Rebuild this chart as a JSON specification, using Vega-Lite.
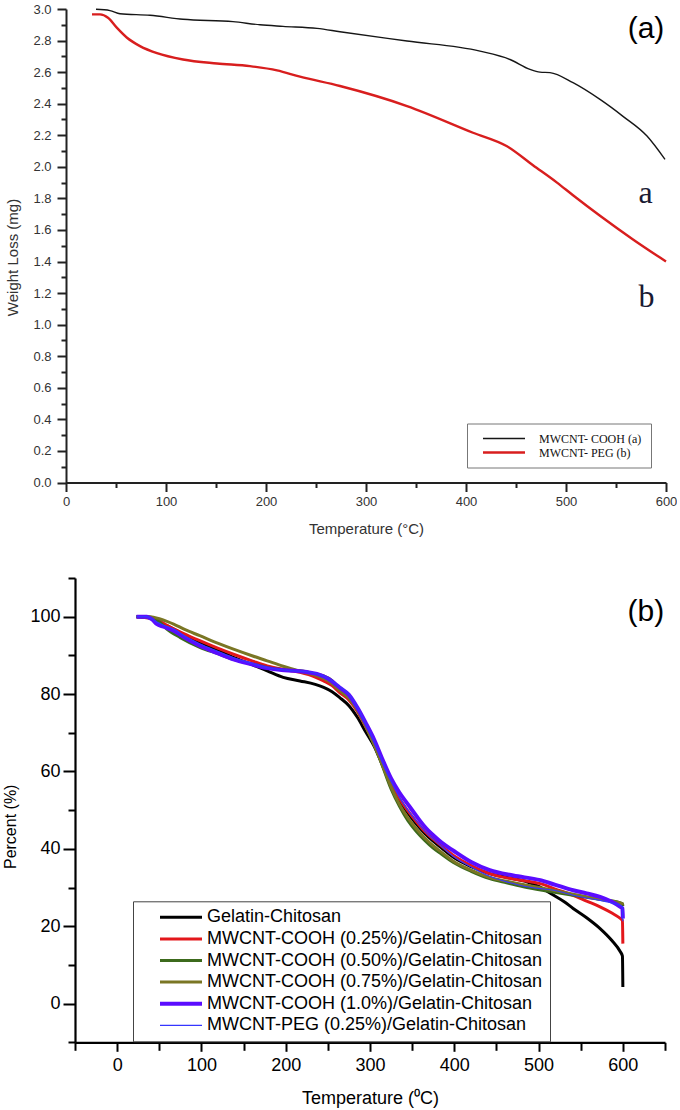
{
  "$schema": "https://vega.github.io/schema/vega-lite/v6.json",
  "padding": {"left": 2, "top": 3, "right": 0, "bottom": 0},
  "spacing": 40,
  "resolve": {"scale": {"color": "independent", "strokeWidth": "independent", "x": "independent", "y": "independent"}, "legend": {"color": "independent", "strokeWidth": "independent"}},
  "config": {
    "font": "Liberation Sans",
    "view": {"stroke": null},
    "axis": {"grid": false, "labelFlush": false, "labelOverlap": false, "titleFontWeight": "normal"}
  },
  "vconcat": [
    {
      "width": 600,
      "height": 473.5,
      "resolve": {"axis": {"x": "independent", "y": "independent"}},
      "layer": [
        {
          "data": {"values": [
            {"s": "MWCNT- COOH (a)", "T": 30, "W": 2.998},
            {"s": "MWCNT- COOH (a)", "T": 44, "W": 2.99},
            {"s": "MWCNT- COOH (a)", "T": 54, "W": 2.97},
            {"s": "MWCNT- COOH (a)", "T": 84, "W": 2.96},
            {"s": "MWCNT- COOH (a)", "T": 117, "W": 2.935},
            {"s": "MWCNT- COOH (a)", "T": 167, "W": 2.92},
            {"s": "MWCNT- COOH (a)", "T": 194, "W": 2.9},
            {"s": "MWCNT- COOH (a)", "T": 217, "W": 2.89},
            {"s": "MWCNT- COOH (a)", "T": 251, "W": 2.877},
            {"s": "MWCNT- COOH (a)", "T": 274, "W": 2.856},
            {"s": "MWCNT- COOH (a)", "T": 341, "W": 2.797},
            {"s": "MWCNT- COOH (a)", "T": 414, "W": 2.733},
            {"s": "MWCNT- COOH (a)", "T": 444, "W": 2.68},
            {"s": "MWCNT- COOH (a)", "T": 464, "W": 2.617},
            {"s": "MWCNT- COOH (a)", "T": 474, "W": 2.6},
            {"s": "MWCNT- COOH (a)", "T": 484, "W": 2.597},
            {"s": "MWCNT- COOH (a)", "T": 507, "W": 2.533},
            {"s": "MWCNT- COOH (a)", "T": 534, "W": 2.427},
            {"s": "MWCNT- COOH (a)", "T": 557, "W": 2.32},
            {"s": "MWCNT- COOH (a)", "T": 581, "W": 2.195},
            {"s": "MWCNT- COOH (a)", "T": 599, "W": 2.047},
            {"s": "MWCNT- PEG (b)", "T": 26, "W": 2.966},
            {"s": "MWCNT- PEG (b)", "T": 34, "W": 2.966},
            {"s": "MWCNT- PEG (b)", "T": 42, "W": 2.945},
            {"s": "MWCNT- PEG (b)", "T": 51, "W": 2.88},
            {"s": "MWCNT- PEG (b)", "T": 61, "W": 2.818},
            {"s": "MWCNT- PEG (b)", "T": 74, "W": 2.765},
            {"s": "MWCNT- PEG (b)", "T": 91, "W": 2.72},
            {"s": "MWCNT- PEG (b)", "T": 117, "W": 2.68},
            {"s": "MWCNT- PEG (b)", "T": 151, "W": 2.655},
            {"s": "MWCNT- PEG (b)", "T": 184, "W": 2.638},
            {"s": "MWCNT- PEG (b)", "T": 211, "W": 2.611},
            {"s": "MWCNT- PEG (b)", "T": 234, "W": 2.571},
            {"s": "MWCNT- PEG (b)", "T": 274, "W": 2.512},
            {"s": "MWCNT- PEG (b)", "T": 341, "W": 2.385},
            {"s": "MWCNT- PEG (b)", "T": 407, "W": 2.216},
            {"s": "MWCNT- PEG (b)", "T": 441, "W": 2.13},
            {"s": "MWCNT- PEG (b)", "T": 467, "W": 2.01},
            {"s": "MWCNT- PEG (b)", "T": 491, "W": 1.9},
            {"s": "MWCNT- PEG (b)", "T": 507, "W": 1.82},
            {"s": "MWCNT- PEG (b)", "T": 534, "W": 1.69},
            {"s": "MWCNT- PEG (b)", "T": 567, "W": 1.54},
            {"s": "MWCNT- PEG (b)", "T": 594, "W": 1.425},
            {"s": "MWCNT- PEG (b)", "T": 600, "W": 1.4}
          ]},
          "mark": {"type": "line", "interpolate": "monotone"},
          "encoding": {
            "x": {"field": "T", "type": "quantitative",
              "scale": {"domain": [0, 600], "nice": false, "zero": false},
              "axis": {"orient": "bottom", "values": [0, 100, 200, 300, 400, 500, 600], "tickSize": 9, "tickWidth": 2, "tickColor": "#222", "domainColor": "#222", "domainWidth": 2, "labelFontSize": 13, "labelColor": "#333", "labelPadding": 4, "title": "Temperature (°C)", "titleFontSize": 15, "titleColor": "#333", "titleY": 39, "titleBaseline": "top"}},
            "y": {"field": "W", "type": "quantitative",
              "scale": {"domain": [0, 3], "nice": false, "zero": false},
              "axis": {"orient": "left", "values": [0, 0.2, 0.4, 0.6, 0.8, 1.0, 1.2, 1.4, 1.6, 1.8, 2.0, 2.2, 2.4, 2.6, 2.8, 3.0], "format": ".1f", "tickSize": 9, "tickWidth": 2, "tickColor": "#222", "domainColor": "#222", "domainWidth": 2, "labelFontSize": 13, "labelColor": "#333", "labelPadding": 6, "title": "Weight Loss (mg)", "titleFontSize": 15, "titleColor": "#333", "titleX": -54, "titleY": 248, "titleBaseline": "middle"}},
            "color": {"field": "s", "type": "nominal",
              "scale": {"domain": ["MWCNT- COOH (a)", "MWCNT- PEG (b)"], "range": ["#161616", "#d81e1e"]},
              "legend": {"title": null, "orient": "none", "legendX": 401, "legendY": 414.5, "direction": "vertical", "columns": 1, "symbolType": "stroke", "symbolSize": 1764, "symbolStrokeWidth": 3, "clipHeight": 12, "rowPadding": 2, "padding": 9, "labelFont": "Liberation Serif", "labelFontSize": 12, "labelColor": "#111", "symbolOffset": 5.5, "labelOffset": 12.5, "strokeColor": "#777", "fillColor": "white", "labelLimit": 400, "labelExpr": "datum.label + '      '"}},
            "strokeWidth": {"field": "s", "type": "nominal",
              "scale": {"type": "ordinal", "domain": ["MWCNT- COOH (a)", "MWCNT- PEG (b)"], "range": [1.4, 2.4]},
              "legend": null}
          }
        },
        {
          "data": {"values": [{"T": 580, "W": 2.816, "label": "(a)"}]},
          "mark": {"type": "text", "font": "Liberation Sans", "fontSize": 30, "align": "center", "baseline": "alphabetic", "color": "#000"},
          "encoding": {
            "x": {"field": "T", "type": "quantitative",
              "axis": {"orient": "bottom", "values": [50, 150, 250, 350, 450, 550], "labels": false, "domain": false, "tickSize": 5, "tickWidth": 2, "tickColor": "#222", "title": null}},
            "y": {"field": "W", "type": "quantitative",
              "axis": {"orient": "left", "values": [0.1, 0.3, 0.5, 0.7, 0.9, 1.1, 1.3, 1.5, 1.7, 1.9, 2.1, 2.3, 2.5, 2.7, 2.9], "labels": false, "domain": false, "tickSize": 5, "tickWidth": 2, "tickColor": "#222", "title": null}},
            "text": {"field": "label"}
          }
        },
        {
          "data": {"values": [{"T": 579.5, "W": 1.774, "label": "a"}, {"T": 580.5, "W": 1.115, "label": "b"}]},
          "mark": {"type": "text", "font": "Liberation Serif", "fontSize": 32, "align": "center", "baseline": "alphabetic", "color": "#1a1a33"},
          "encoding": {
            "x": {"field": "T", "type": "quantitative", "axis": null},
            "y": {"field": "W", "type": "quantitative", "axis": null},
            "text": {"field": "label"}
          }
        }
      ]
    },
    {
      "width": 599,
      "height": 464.3,
      "resolve": {"axis": {"x": "independent", "y": "independent"}},
      "layer": [
        {
          "data": {"values": [
            {"s": "Gelatin-Chitosan", "T": 23, "P": 100},
            {"s": "Gelatin-Chitosan", "T": 40, "P": 99.6},
            {"s": "Gelatin-Chitosan", "T": 51, "P": 98.5},
            {"s": "Gelatin-Chitosan", "T": 59, "P": 97.7},
            {"s": "Gelatin-Chitosan", "T": 75, "P": 95.9},
            {"s": "Gelatin-Chitosan", "T": 98, "P": 93.4},
            {"s": "Gelatin-Chitosan", "T": 120, "P": 91.2},
            {"s": "Gelatin-Chitosan", "T": 138, "P": 89.5},
            {"s": "Gelatin-Chitosan", "T": 160, "P": 87.6},
            {"s": "Gelatin-Chitosan", "T": 178, "P": 86},
            {"s": "Gelatin-Chitosan", "T": 197, "P": 84.3},
            {"s": "Gelatin-Chitosan", "T": 217, "P": 83.4},
            {"s": "Gelatin-Chitosan", "T": 235, "P": 82.5},
            {"s": "Gelatin-Chitosan", "T": 245, "P": 81.7},
            {"s": "Gelatin-Chitosan", "T": 255, "P": 80.6},
            {"s": "Gelatin-Chitosan", "T": 264, "P": 79.1},
            {"s": "Gelatin-Chitosan", "T": 275, "P": 77},
            {"s": "Gelatin-Chitosan", "T": 285, "P": 74},
            {"s": "Gelatin-Chitosan", "T": 295, "P": 70.2},
            {"s": "Gelatin-Chitosan", "T": 305, "P": 66.5},
            {"s": "Gelatin-Chitosan", "T": 315, "P": 61.5},
            {"s": "Gelatin-Chitosan", "T": 325, "P": 56.5},
            {"s": "Gelatin-Chitosan", "T": 335, "P": 52.5},
            {"s": "Gelatin-Chitosan", "T": 345, "P": 49.2},
            {"s": "Gelatin-Chitosan", "T": 355, "P": 46.4},
            {"s": "Gelatin-Chitosan", "T": 365, "P": 44},
            {"s": "Gelatin-Chitosan", "T": 375, "P": 42},
            {"s": "Gelatin-Chitosan", "T": 385, "P": 40.2},
            {"s": "Gelatin-Chitosan", "T": 399, "P": 37.8},
            {"s": "Gelatin-Chitosan", "T": 420, "P": 35.4},
            {"s": "Gelatin-Chitosan", "T": 442, "P": 33.6},
            {"s": "Gelatin-Chitosan", "T": 465, "P": 32.5},
            {"s": "Gelatin-Chitosan", "T": 486, "P": 31.5},
            {"s": "Gelatin-Chitosan", "T": 500, "P": 30.3},
            {"s": "Gelatin-Chitosan", "T": 518, "P": 28},
            {"s": "Gelatin-Chitosan", "T": 530, "P": 26.4},
            {"s": "Gelatin-Chitosan", "T": 541, "P": 24.6},
            {"s": "Gelatin-Chitosan", "T": 557, "P": 22.2},
            {"s": "Gelatin-Chitosan", "T": 573, "P": 19.4},
            {"s": "Gelatin-Chitosan", "T": 587, "P": 16.3},
            {"s": "Gelatin-Chitosan", "T": 597, "P": 13.4},
            {"s": "Gelatin-Chitosan", "T": 599.5, "P": 12.3},
            {"s": "Gelatin-Chitosan", "T": 600, "P": 4.3},
            {"s": "MWCNT-COOH (0.25%)/Gelatin-Chitosan", "T": 23, "P": 100},
            {"s": "MWCNT-COOH (0.25%)/Gelatin-Chitosan", "T": 40, "P": 99.6},
            {"s": "MWCNT-COOH (0.25%)/Gelatin-Chitosan", "T": 51, "P": 98.8},
            {"s": "MWCNT-COOH (0.25%)/Gelatin-Chitosan", "T": 59, "P": 97.8},
            {"s": "MWCNT-COOH (0.25%)/Gelatin-Chitosan", "T": 75, "P": 96},
            {"s": "MWCNT-COOH (0.25%)/Gelatin-Chitosan", "T": 98, "P": 93.8},
            {"s": "MWCNT-COOH (0.25%)/Gelatin-Chitosan", "T": 120, "P": 91.8},
            {"s": "MWCNT-COOH (0.25%)/Gelatin-Chitosan", "T": 138, "P": 90.3},
            {"s": "MWCNT-COOH (0.25%)/Gelatin-Chitosan", "T": 160, "P": 88.6},
            {"s": "MWCNT-COOH (0.25%)/Gelatin-Chitosan", "T": 178, "P": 87.3},
            {"s": "MWCNT-COOH (0.25%)/Gelatin-Chitosan", "T": 197, "P": 86.4},
            {"s": "MWCNT-COOH (0.25%)/Gelatin-Chitosan", "T": 217, "P": 85.6},
            {"s": "MWCNT-COOH (0.25%)/Gelatin-Chitosan", "T": 235, "P": 84.4},
            {"s": "MWCNT-COOH (0.25%)/Gelatin-Chitosan", "T": 245, "P": 83.4},
            {"s": "MWCNT-COOH (0.25%)/Gelatin-Chitosan", "T": 255, "P": 82.2},
            {"s": "MWCNT-COOH (0.25%)/Gelatin-Chitosan", "T": 264, "P": 80.4},
            {"s": "MWCNT-COOH (0.25%)/Gelatin-Chitosan", "T": 275, "P": 78.5},
            {"s": "MWCNT-COOH (0.25%)/Gelatin-Chitosan", "T": 285, "P": 75.5},
            {"s": "MWCNT-COOH (0.25%)/Gelatin-Chitosan", "T": 295, "P": 71.5},
            {"s": "MWCNT-COOH (0.25%)/Gelatin-Chitosan", "T": 305, "P": 67.3},
            {"s": "MWCNT-COOH (0.25%)/Gelatin-Chitosan", "T": 315, "P": 62.3},
            {"s": "MWCNT-COOH (0.25%)/Gelatin-Chitosan", "T": 325, "P": 57.3},
            {"s": "MWCNT-COOH (0.25%)/Gelatin-Chitosan", "T": 335, "P": 53},
            {"s": "MWCNT-COOH (0.25%)/Gelatin-Chitosan", "T": 345, "P": 49.8},
            {"s": "MWCNT-COOH (0.25%)/Gelatin-Chitosan", "T": 355, "P": 47},
            {"s": "MWCNT-COOH (0.25%)/Gelatin-Chitosan", "T": 365, "P": 44.5},
            {"s": "MWCNT-COOH (0.25%)/Gelatin-Chitosan", "T": 375, "P": 42.5},
            {"s": "MWCNT-COOH (0.25%)/Gelatin-Chitosan", "T": 385, "P": 40.7},
            {"s": "MWCNT-COOH (0.25%)/Gelatin-Chitosan", "T": 399, "P": 38.3},
            {"s": "MWCNT-COOH (0.25%)/Gelatin-Chitosan", "T": 420, "P": 35.7},
            {"s": "MWCNT-COOH (0.25%)/Gelatin-Chitosan", "T": 442, "P": 33.6},
            {"s": "MWCNT-COOH (0.25%)/Gelatin-Chitosan", "T": 470, "P": 32.2},
            {"s": "MWCNT-COOH (0.25%)/Gelatin-Chitosan", "T": 502, "P": 31},
            {"s": "MWCNT-COOH (0.25%)/Gelatin-Chitosan", "T": 520, "P": 29.6},
            {"s": "MWCNT-COOH (0.25%)/Gelatin-Chitosan", "T": 541, "P": 28},
            {"s": "MWCNT-COOH (0.25%)/Gelatin-Chitosan", "T": 557, "P": 26.5},
            {"s": "MWCNT-COOH (0.25%)/Gelatin-Chitosan", "T": 573, "P": 25},
            {"s": "MWCNT-COOH (0.25%)/Gelatin-Chitosan", "T": 587, "P": 23.4},
            {"s": "MWCNT-COOH (0.25%)/Gelatin-Chitosan", "T": 597, "P": 22},
            {"s": "MWCNT-COOH (0.25%)/Gelatin-Chitosan", "T": 599.5, "P": 21.5},
            {"s": "MWCNT-COOH (0.25%)/Gelatin-Chitosan", "T": 600, "P": 15.5},
            {"s": "MWCNT-COOH (0.50%)/Gelatin-Chitosan", "T": 23, "P": 100},
            {"s": "MWCNT-COOH (0.50%)/Gelatin-Chitosan", "T": 35, "P": 100},
            {"s": "MWCNT-COOH (0.50%)/Gelatin-Chitosan", "T": 45, "P": 99.5},
            {"s": "MWCNT-COOH (0.50%)/Gelatin-Chitosan", "T": 52, "P": 98.3},
            {"s": "MWCNT-COOH (0.50%)/Gelatin-Chitosan", "T": 59, "P": 96.8},
            {"s": "MWCNT-COOH (0.50%)/Gelatin-Chitosan", "T": 75, "P": 94.6},
            {"s": "MWCNT-COOH (0.50%)/Gelatin-Chitosan", "T": 98, "P": 92.1},
            {"s": "MWCNT-COOH (0.50%)/Gelatin-Chitosan", "T": 120, "P": 90.4},
            {"s": "MWCNT-COOH (0.50%)/Gelatin-Chitosan", "T": 138, "P": 89},
            {"s": "MWCNT-COOH (0.50%)/Gelatin-Chitosan", "T": 160, "P": 87.8},
            {"s": "MWCNT-COOH (0.50%)/Gelatin-Chitosan", "T": 178, "P": 86.9},
            {"s": "MWCNT-COOH (0.50%)/Gelatin-Chitosan", "T": 197, "P": 86.3},
            {"s": "MWCNT-COOH (0.50%)/Gelatin-Chitosan", "T": 217, "P": 86},
            {"s": "MWCNT-COOH (0.50%)/Gelatin-Chitosan", "T": 235, "P": 85.2},
            {"s": "MWCNT-COOH (0.50%)/Gelatin-Chitosan", "T": 245, "P": 84.7},
            {"s": "MWCNT-COOH (0.50%)/Gelatin-Chitosan", "T": 255, "P": 83.5},
            {"s": "MWCNT-COOH (0.50%)/Gelatin-Chitosan", "T": 264, "P": 81.3},
            {"s": "MWCNT-COOH (0.50%)/Gelatin-Chitosan", "T": 275, "P": 79.2},
            {"s": "MWCNT-COOH (0.50%)/Gelatin-Chitosan", "T": 285, "P": 76},
            {"s": "MWCNT-COOH (0.50%)/Gelatin-Chitosan", "T": 295, "P": 71.8},
            {"s": "MWCNT-COOH (0.50%)/Gelatin-Chitosan", "T": 305, "P": 67},
            {"s": "MWCNT-COOH (0.50%)/Gelatin-Chitosan", "T": 315, "P": 61.3},
            {"s": "MWCNT-COOH (0.50%)/Gelatin-Chitosan", "T": 325, "P": 55.5},
            {"s": "MWCNT-COOH (0.50%)/Gelatin-Chitosan", "T": 335, "P": 51},
            {"s": "MWCNT-COOH (0.50%)/Gelatin-Chitosan", "T": 345, "P": 47.3},
            {"s": "MWCNT-COOH (0.50%)/Gelatin-Chitosan", "T": 355, "P": 44.5},
            {"s": "MWCNT-COOH (0.50%)/Gelatin-Chitosan", "T": 365, "P": 42.2},
            {"s": "MWCNT-COOH (0.50%)/Gelatin-Chitosan", "T": 375, "P": 40.2},
            {"s": "MWCNT-COOH (0.50%)/Gelatin-Chitosan", "T": 385, "P": 38.6},
            {"s": "MWCNT-COOH (0.50%)/Gelatin-Chitosan", "T": 399, "P": 36.5},
            {"s": "MWCNT-COOH (0.50%)/Gelatin-Chitosan", "T": 420, "P": 34.2},
            {"s": "MWCNT-COOH (0.50%)/Gelatin-Chitosan", "T": 442, "P": 32.3},
            {"s": "MWCNT-COOH (0.50%)/Gelatin-Chitosan", "T": 462, "P": 31.2},
            {"s": "MWCNT-COOH (0.50%)/Gelatin-Chitosan", "T": 482, "P": 30.2},
            {"s": "MWCNT-COOH (0.50%)/Gelatin-Chitosan", "T": 510, "P": 29.1},
            {"s": "MWCNT-COOH (0.50%)/Gelatin-Chitosan", "T": 541, "P": 28},
            {"s": "MWCNT-COOH (0.50%)/Gelatin-Chitosan", "T": 570, "P": 27},
            {"s": "MWCNT-COOH (0.50%)/Gelatin-Chitosan", "T": 597, "P": 26},
            {"s": "MWCNT-COOH (0.50%)/Gelatin-Chitosan", "T": 599.5, "P": 25.8},
            {"s": "MWCNT-COOH (0.50%)/Gelatin-Chitosan", "T": 600, "P": 25.2},
            {"s": "MWCNT-COOH (0.75%)/Gelatin-Chitosan", "T": 23, "P": 100},
            {"s": "MWCNT-COOH (0.75%)/Gelatin-Chitosan", "T": 39, "P": 100},
            {"s": "MWCNT-COOH (0.75%)/Gelatin-Chitosan", "T": 51, "P": 99.4},
            {"s": "MWCNT-COOH (0.75%)/Gelatin-Chitosan", "T": 59, "P": 98.8},
            {"s": "MWCNT-COOH (0.75%)/Gelatin-Chitosan", "T": 67, "P": 98.1},
            {"s": "MWCNT-COOH (0.75%)/Gelatin-Chitosan", "T": 80, "P": 96.7},
            {"s": "MWCNT-COOH (0.75%)/Gelatin-Chitosan", "T": 98, "P": 95.1},
            {"s": "MWCNT-COOH (0.75%)/Gelatin-Chitosan", "T": 120, "P": 93.1},
            {"s": "MWCNT-COOH (0.75%)/Gelatin-Chitosan", "T": 138, "P": 91.6},
            {"s": "MWCNT-COOH (0.75%)/Gelatin-Chitosan", "T": 160, "P": 89.9},
            {"s": "MWCNT-COOH (0.75%)/Gelatin-Chitosan", "T": 178, "P": 88.6},
            {"s": "MWCNT-COOH (0.75%)/Gelatin-Chitosan", "T": 197, "P": 87.2},
            {"s": "MWCNT-COOH (0.75%)/Gelatin-Chitosan", "T": 217, "P": 85.9},
            {"s": "MWCNT-COOH (0.75%)/Gelatin-Chitosan", "T": 237, "P": 84.7},
            {"s": "MWCNT-COOH (0.75%)/Gelatin-Chitosan", "T": 250, "P": 83.5},
            {"s": "MWCNT-COOH (0.75%)/Gelatin-Chitosan", "T": 264, "P": 80.9},
            {"s": "MWCNT-COOH (0.75%)/Gelatin-Chitosan", "T": 275, "P": 78.9},
            {"s": "MWCNT-COOH (0.75%)/Gelatin-Chitosan", "T": 285, "P": 75.8},
            {"s": "MWCNT-COOH (0.75%)/Gelatin-Chitosan", "T": 295, "P": 71.6},
            {"s": "MWCNT-COOH (0.75%)/Gelatin-Chitosan", "T": 305, "P": 66.8},
            {"s": "MWCNT-COOH (0.75%)/Gelatin-Chitosan", "T": 315, "P": 61.5},
            {"s": "MWCNT-COOH (0.75%)/Gelatin-Chitosan", "T": 325, "P": 56},
            {"s": "MWCNT-COOH (0.75%)/Gelatin-Chitosan", "T": 335, "P": 51.5},
            {"s": "MWCNT-COOH (0.75%)/Gelatin-Chitosan", "T": 345, "P": 48},
            {"s": "MWCNT-COOH (0.75%)/Gelatin-Chitosan", "T": 355, "P": 45.2},
            {"s": "MWCNT-COOH (0.75%)/Gelatin-Chitosan", "T": 365, "P": 42.8},
            {"s": "MWCNT-COOH (0.75%)/Gelatin-Chitosan", "T": 375, "P": 40.8},
            {"s": "MWCNT-COOH (0.75%)/Gelatin-Chitosan", "T": 385, "P": 39.1},
            {"s": "MWCNT-COOH (0.75%)/Gelatin-Chitosan", "T": 399, "P": 36.8},
            {"s": "MWCNT-COOH (0.75%)/Gelatin-Chitosan", "T": 420, "P": 34.5},
            {"s": "MWCNT-COOH (0.75%)/Gelatin-Chitosan", "T": 442, "P": 32.6},
            {"s": "MWCNT-COOH (0.75%)/Gelatin-Chitosan", "T": 465, "P": 31.5},
            {"s": "MWCNT-COOH (0.75%)/Gelatin-Chitosan", "T": 486, "P": 30.6},
            {"s": "MWCNT-COOH (0.75%)/Gelatin-Chitosan", "T": 515, "P": 29.4},
            {"s": "MWCNT-COOH (0.75%)/Gelatin-Chitosan", "T": 541, "P": 28.3},
            {"s": "MWCNT-COOH (0.75%)/Gelatin-Chitosan", "T": 570, "P": 27.1},
            {"s": "MWCNT-COOH (0.75%)/Gelatin-Chitosan", "T": 597, "P": 26},
            {"s": "MWCNT-COOH (0.75%)/Gelatin-Chitosan", "T": 599.5, "P": 25.8},
            {"s": "MWCNT-COOH (0.75%)/Gelatin-Chitosan", "T": 600, "P": 25.5},
            {"s": "MWCNT-COOH (1.0%)/Gelatin-Chitosan", "T": 23, "P": 100},
            {"s": "MWCNT-COOH (1.0%)/Gelatin-Chitosan", "T": 35, "P": 100},
            {"s": "MWCNT-COOH (1.0%)/Gelatin-Chitosan", "T": 42, "P": 99.2},
            {"s": "MWCNT-COOH (1.0%)/Gelatin-Chitosan", "T": 47, "P": 98.1},
            {"s": "MWCNT-COOH (1.0%)/Gelatin-Chitosan", "T": 55, "P": 97.4},
            {"s": "MWCNT-COOH (1.0%)/Gelatin-Chitosan", "T": 67, "P": 96.4},
            {"s": "MWCNT-COOH (1.0%)/Gelatin-Chitosan", "T": 80, "P": 94.6},
            {"s": "MWCNT-COOH (1.0%)/Gelatin-Chitosan", "T": 98, "P": 92.5},
            {"s": "MWCNT-COOH (1.0%)/Gelatin-Chitosan", "T": 120, "P": 90.5},
            {"s": "MWCNT-COOH (1.0%)/Gelatin-Chitosan", "T": 138, "P": 89},
            {"s": "MWCNT-COOH (1.0%)/Gelatin-Chitosan", "T": 160, "P": 87.7},
            {"s": "MWCNT-COOH (1.0%)/Gelatin-Chitosan", "T": 178, "P": 86.7},
            {"s": "MWCNT-COOH (1.0%)/Gelatin-Chitosan", "T": 195, "P": 86.2},
            {"s": "MWCNT-COOH (1.0%)/Gelatin-Chitosan", "T": 209, "P": 86},
            {"s": "MWCNT-COOH (1.0%)/Gelatin-Chitosan", "T": 225, "P": 85.7},
            {"s": "MWCNT-COOH (1.0%)/Gelatin-Chitosan", "T": 237, "P": 85.2},
            {"s": "MWCNT-COOH (1.0%)/Gelatin-Chitosan", "T": 250, "P": 84},
            {"s": "MWCNT-COOH (1.0%)/Gelatin-Chitosan", "T": 264, "P": 81.7},
            {"s": "MWCNT-COOH (1.0%)/Gelatin-Chitosan", "T": 275, "P": 79.8},
            {"s": "MWCNT-COOH (1.0%)/Gelatin-Chitosan", "T": 285, "P": 76.5},
            {"s": "MWCNT-COOH (1.0%)/Gelatin-Chitosan", "T": 295, "P": 72.5},
            {"s": "MWCNT-COOH (1.0%)/Gelatin-Chitosan", "T": 305, "P": 68.2},
            {"s": "MWCNT-COOH (1.0%)/Gelatin-Chitosan", "T": 315, "P": 63},
            {"s": "MWCNT-COOH (1.0%)/Gelatin-Chitosan", "T": 325, "P": 58.2},
            {"s": "MWCNT-COOH (1.0%)/Gelatin-Chitosan", "T": 335, "P": 54.5},
            {"s": "MWCNT-COOH (1.0%)/Gelatin-Chitosan", "T": 345, "P": 51.5},
            {"s": "MWCNT-COOH (1.0%)/Gelatin-Chitosan", "T": 355, "P": 48.5},
            {"s": "MWCNT-COOH (1.0%)/Gelatin-Chitosan", "T": 365, "P": 45.7},
            {"s": "MWCNT-COOH (1.0%)/Gelatin-Chitosan", "T": 375, "P": 43.5},
            {"s": "MWCNT-COOH (1.0%)/Gelatin-Chitosan", "T": 385, "P": 41.6},
            {"s": "MWCNT-COOH (1.0%)/Gelatin-Chitosan", "T": 399, "P": 39.5},
            {"s": "MWCNT-COOH (1.0%)/Gelatin-Chitosan", "T": 420, "P": 36.6},
            {"s": "MWCNT-COOH (1.0%)/Gelatin-Chitosan", "T": 442, "P": 34.5},
            {"s": "MWCNT-COOH (1.0%)/Gelatin-Chitosan", "T": 470, "P": 33.1},
            {"s": "MWCNT-COOH (1.0%)/Gelatin-Chitosan", "T": 502, "P": 31.9},
            {"s": "MWCNT-COOH (1.0%)/Gelatin-Chitosan", "T": 520, "P": 30.7},
            {"s": "MWCNT-COOH (1.0%)/Gelatin-Chitosan", "T": 541, "P": 29.3},
            {"s": "MWCNT-COOH (1.0%)/Gelatin-Chitosan", "T": 557, "P": 28.5},
            {"s": "MWCNT-COOH (1.0%)/Gelatin-Chitosan", "T": 573, "P": 27.6},
            {"s": "MWCNT-COOH (1.0%)/Gelatin-Chitosan", "T": 587, "P": 26.3},
            {"s": "MWCNT-COOH (1.0%)/Gelatin-Chitosan", "T": 597, "P": 25},
            {"s": "MWCNT-COOH (1.0%)/Gelatin-Chitosan", "T": 599.5, "P": 24.6},
            {"s": "MWCNT-COOH (1.0%)/Gelatin-Chitosan", "T": 600, "P": 22},
            {"s": "MWCNT-PEG (0.25%)/Gelatin-Chitosan", "T": 23, "P": 100},
            {"s": "MWCNT-PEG (0.25%)/Gelatin-Chitosan", "T": 35, "P": 100},
            {"s": "MWCNT-PEG (0.25%)/Gelatin-Chitosan", "T": 47, "P": 98.6},
            {"s": "MWCNT-PEG (0.25%)/Gelatin-Chitosan", "T": 55, "P": 97.8},
            {"s": "MWCNT-PEG (0.25%)/Gelatin-Chitosan", "T": 67, "P": 96.8},
            {"s": "MWCNT-PEG (0.25%)/Gelatin-Chitosan", "T": 80, "P": 95},
            {"s": "MWCNT-PEG (0.25%)/Gelatin-Chitosan", "T": 98, "P": 93},
            {"s": "MWCNT-PEG (0.25%)/Gelatin-Chitosan", "T": 120, "P": 91},
            {"s": "MWCNT-PEG (0.25%)/Gelatin-Chitosan", "T": 138, "P": 89.4},
            {"s": "MWCNT-PEG (0.25%)/Gelatin-Chitosan", "T": 160, "P": 87.9},
            {"s": "MWCNT-PEG (0.25%)/Gelatin-Chitosan", "T": 178, "P": 86.8},
            {"s": "MWCNT-PEG (0.25%)/Gelatin-Chitosan", "T": 195, "P": 86.3},
            {"s": "MWCNT-PEG (0.25%)/Gelatin-Chitosan", "T": 209, "P": 86},
            {"s": "MWCNT-PEG (0.25%)/Gelatin-Chitosan", "T": 225, "P": 85.8},
            {"s": "MWCNT-PEG (0.25%)/Gelatin-Chitosan", "T": 237, "P": 85.3},
            {"s": "MWCNT-PEG (0.25%)/Gelatin-Chitosan", "T": 250, "P": 84.1},
            {"s": "MWCNT-PEG (0.25%)/Gelatin-Chitosan", "T": 264, "P": 81.9},
            {"s": "MWCNT-PEG (0.25%)/Gelatin-Chitosan", "T": 275, "P": 80},
            {"s": "MWCNT-PEG (0.25%)/Gelatin-Chitosan", "T": 285, "P": 76.6},
            {"s": "MWCNT-PEG (0.25%)/Gelatin-Chitosan", "T": 295, "P": 72.4},
            {"s": "MWCNT-PEG (0.25%)/Gelatin-Chitosan", "T": 305, "P": 67.8},
            {"s": "MWCNT-PEG (0.25%)/Gelatin-Chitosan", "T": 315, "P": 62.5},
            {"s": "MWCNT-PEG (0.25%)/Gelatin-Chitosan", "T": 325, "P": 57.5},
            {"s": "MWCNT-PEG (0.25%)/Gelatin-Chitosan", "T": 335, "P": 53.3},
            {"s": "MWCNT-PEG (0.25%)/Gelatin-Chitosan", "T": 345, "P": 50},
            {"s": "MWCNT-PEG (0.25%)/Gelatin-Chitosan", "T": 355, "P": 47.2},
            {"s": "MWCNT-PEG (0.25%)/Gelatin-Chitosan", "T": 365, "P": 44.6},
            {"s": "MWCNT-PEG (0.25%)/Gelatin-Chitosan", "T": 375, "P": 42.5},
            {"s": "MWCNT-PEG (0.25%)/Gelatin-Chitosan", "T": 385, "P": 40.6},
            {"s": "MWCNT-PEG (0.25%)/Gelatin-Chitosan", "T": 399, "P": 38},
            {"s": "MWCNT-PEG (0.25%)/Gelatin-Chitosan", "T": 420, "P": 35.3},
            {"s": "MWCNT-PEG (0.25%)/Gelatin-Chitosan", "T": 442, "P": 32.9},
            {"s": "MWCNT-PEG (0.25%)/Gelatin-Chitosan", "T": 465, "P": 31.3},
            {"s": "MWCNT-PEG (0.25%)/Gelatin-Chitosan", "T": 486, "P": 30.2},
            {"s": "MWCNT-PEG (0.25%)/Gelatin-Chitosan", "T": 502, "P": 29.7},
            {"s": "MWCNT-PEG (0.25%)/Gelatin-Chitosan", "T": 518, "P": 29.3},
            {"s": "MWCNT-PEG (0.25%)/Gelatin-Chitosan", "T": 541, "P": 28},
            {"s": "MWCNT-PEG (0.25%)/Gelatin-Chitosan", "T": 557, "P": 27.3},
            {"s": "MWCNT-PEG (0.25%)/Gelatin-Chitosan", "T": 573, "P": 26.7},
            {"s": "MWCNT-PEG (0.25%)/Gelatin-Chitosan", "T": 587, "P": 26},
            {"s": "MWCNT-PEG (0.25%)/Gelatin-Chitosan", "T": 597, "P": 25.4},
            {"s": "MWCNT-PEG (0.25%)/Gelatin-Chitosan", "T": 599.5, "P": 25},
            {"s": "MWCNT-PEG (0.25%)/Gelatin-Chitosan", "T": 600, "P": 21.3}
          ]},
          "mark": {"type": "line", "interpolate": "monotone"},
          "encoding": {
            "x": {"field": "T", "type": "quantitative",
              "scale": {"domain": [-50, 650], "range": [9, 599], "nice": false, "zero": false},
              "axis": {"orient": "bottom", "values": [0, 100, 200, 300, 400, 500, 600], "tickSize": 9, "tickWidth": 2, "tickColor": "#000", "domainColor": "#000", "domainWidth": 2.2, "labelFontSize": 18, "labelColor": "#000", "labelPadding": 5, "title": "Temperature (⁰C)", "titleFontSize": 18, "titleColor": "#000", "titleY": 47.5, "titleBaseline": "top"}},
            "y": {"field": "P", "type": "quantitative",
              "scale": {"domain": [-10, 110], "nice": false, "zero": false},
              "axis": {"orient": "left", "offset": -9, "values": [0, 20, 40, 60, 80, 100], "tickSize": 12, "tickWidth": 2, "tickColor": "#000", "domainColor": "#000", "domainWidth": 2.2, "labelFontSize": 18, "labelColor": "#000", "labelPadding": 3, "title": "Percent (%)", "titleFontSize": 16, "titleColor": "#000", "titleX": -65, "titleY": 248.3, "titleBaseline": "middle"}},
            "color": {"field": "s", "type": "nominal",
              "scale": {"domain": ["Gelatin-Chitosan", "MWCNT-COOH (0.25%)/Gelatin-Chitosan", "MWCNT-COOH (0.50%)/Gelatin-Chitosan", "MWCNT-COOH (0.75%)/Gelatin-Chitosan", "MWCNT-COOH (1.0%)/Gelatin-Chitosan", "MWCNT-PEG (0.25%)/Gelatin-Chitosan"], "range": ["#000000", "#e3171b", "#3c6a1c", "#7a7624", "#5b0cff", "#3535ff"]},
              "legend": {"title": null, "orient": "none", "legendX": 67, "legendY": 323.3, "direction": "vertical", "columns": 1, "symbolType": "stroke", "symbolSize": 1764, "clipHeight": 18, "rowPadding": 3.6, "padding": 7, "labelFont": "Liberation Sans", "labelFontSize": 18, "labelColor": "#000", "symbolOffset": 18, "labelOffset": 3, "strokeColor": "#444", "fillColor": "white", "labelLimit": 500, "labelExpr": "datum.label + ' '"}},
            "strokeWidth": {"field": "s", "type": "nominal",
              "scale": {"type": "ordinal", "domain": ["Gelatin-Chitosan", "MWCNT-COOH (0.25%)/Gelatin-Chitosan", "MWCNT-COOH (0.50%)/Gelatin-Chitosan", "MWCNT-COOH (0.75%)/Gelatin-Chitosan", "MWCNT-COOH (1.0%)/Gelatin-Chitosan", "MWCNT-PEG (0.25%)/Gelatin-Chitosan"], "range": [3, 3, 3, 3, 4, 1.2]}}
          }
        },
        {
          "data": {"values": [{"T": 627.3, "P": 98.9, "label": "(b)"}]},
          "mark": {"type": "text", "font": "Liberation Sans", "fontSize": 30, "align": "center", "baseline": "alphabetic", "color": "#000"},
          "encoding": {
            "x": {"field": "T", "type": "quantitative",
              "axis": {"orient": "bottom", "values": [-50, 50, 150, 250, 350, 450, 550, 650], "labels": false, "domain": false, "tickSize": 8, "tickWidth": 2, "tickColor": "#000", "title": null}},
            "y": {"field": "P", "type": "quantitative",
              "axis": {"orient": "left", "offset": -9, "values": [-10, 10, 30, 50, 70, 90, 110], "labels": false, "domain": false, "tickSize": 7, "tickWidth": 2, "tickColor": "#000", "title": null}},
            "text": {"field": "label"}
          }
        }
      ]
    }
  ]
}
